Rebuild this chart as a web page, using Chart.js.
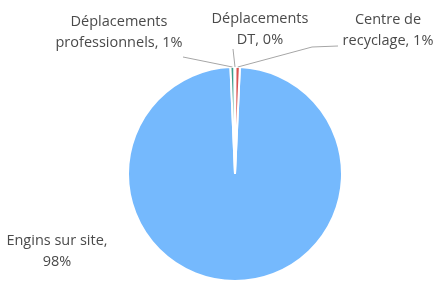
<!DOCTYPE html>
<html>
<head>
<meta charset="utf-8">
<script src="https://cdn.jsdelivr.net/npm/chart.js@4/dist/chart.umd.min.js"></script>
<style>
  html, body { margin: 0; padding: 0; background: #fff; }
  #wrap { width: 438px; height: 282px; }
</style>
</head>
<body>
<div id="wrap"><canvas id="camembert"></canvas></div>
<script>
const categories = ['Engins sur site', 'Déplacements professionnels', 'Déplacements DT', 'Centre de recyclage'];
const valeurs = [98.6, 0.6, 0.15, 0.65];
const etiquettes = [['Engins sur site,', '98%'], ['Déplacements', 'professionnels, 1%'], ['Déplacements', 'DT, 0%'], ['Centre de', 'recyclage, 1%']];
const couleurs = ['#75B9FD', '#3A9E8A', '#8A8A8A', '#D9534F'];

// position des textes (centre) et point de départ du trait de rappel
const placement = [
  { x: 57, y: 241, ligne: null },
  { x: 119, y: 22, ligne: [[183, 57]] },
  { x: 260, y: 19, ligne: [[233, 49]] },
  { x: 388, y: 20, ligne: [[338, 46], [312, 47]] }
];

const total = valeurs.reduce((a, b) => a + b, 0);
// les petites parts sont centrées en haut du camembert
const depart = (valeurs[3] + valeurs[2] / 2) / total * 360;

const etiquettesPlugin = {
  id: 'etiquettes',
  afterDraw(chart) {
    const ctx = chart.ctx;
    const arcs = chart.getDatasetMeta(0).data;
    ctx.save();
    ctx.font = '14.5px "Open Sans", sans-serif';
    ctx.fillStyle = '#4A4A4A';
    ctx.textAlign = 'center';
    ctx.textBaseline = 'middle';
    arcs.forEach((arc, i) => {
      const p = placement[i];
      if (p.ligne) {
        const mid = (arc.startAngle + arc.endAngle) / 2;
        const ax = arc.x + arc.outerRadius * Math.cos(mid);
        const ay = arc.y + arc.outerRadius * Math.sin(mid);
        ctx.strokeStyle = '#A6A6A6';
        ctx.lineWidth = 1;
        ctx.beginPath();
        ctx.moveTo(p.ligne[0][0], p.ligne[0][1]);
        for (let k = 1; k < p.ligne.length; k++) ctx.lineTo(p.ligne[k][0], p.ligne[k][1]);
        ctx.lineTo(ax, ay);
        ctx.stroke();
      }
      etiquettes[i].forEach((t, j) => ctx.fillText(t, p.x, p.y + j * 21));
    });
    ctx.restore();
  }
};

new Chart(document.getElementById('camembert'), {
  type: 'pie',
  data: {
    labels: categories,
    datasets: [{
      data: valeurs,
      backgroundColor: couleurs,
      borderColor: '#FFFFFF',
      borderWidth: 2
    }]
  },
  options: {
    responsive: true,
    maintainAspectRatio: false,
    animation: false,
    rotation: depart,
    layout: { padding: { left: 127, right: 95, top: 66, bottom: 0 } },
    plugins: {
      legend: { display: false },
      tooltip: { enabled: false }
    }
  },
  plugins: [etiquettesPlugin]
});
</script>
</body>
</html>
